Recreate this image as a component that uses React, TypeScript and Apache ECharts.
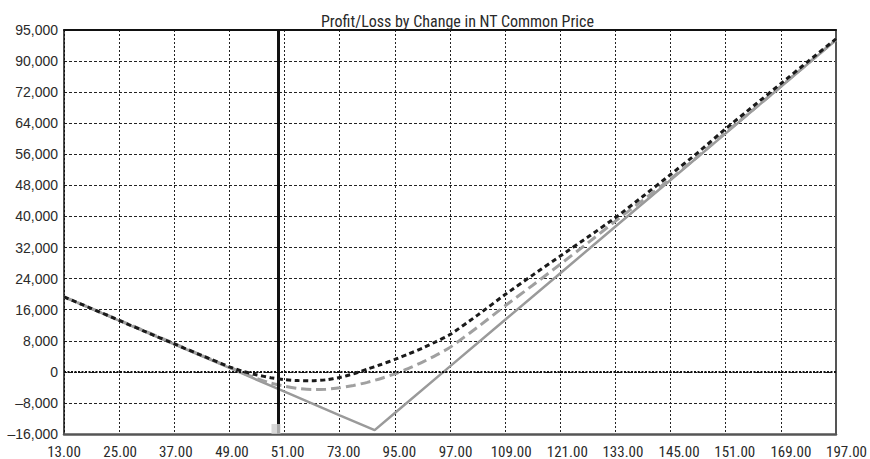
import React, { useEffect, useRef } from "react";
import * as echarts from "echarts";

// ---- Data ----
const TITLE = "Profit/Loss by Change in NT Common Price";

const PRICE_MIN = 13;
const PRICE_MAX = 181;
const PRICE_STEP = 12;
const PRICE_TICK_LABELS = [
  "13.00", "25.00", "37.00", "49.00", "51.00", "73.00", "95.00", "97.00",
  "109.00", "121.00", "133.00", "145.00", "151.00", "169.00", "197.00",
];

const PL_MIN = -16000;
const PL_MAX = 88000;
const PL_STEP = 8000;
const PL_TICK_LABELS = [
  "–16,000", "–8,000", "0", "8,000", "16,000", "24,000", "32,000", "40,000",
  "48,000", "56,000", "64,000", "72,000", "90,000", "95,000",
];

const CURRENT_PRICE = 59.67;

// P/L at expiration (solid gray)
const EXPIRY_PRICES = [13, 25, 37, 49, 61, 73, 80.6, 85, 97, 109, 121, 133, 145, 157, 169, 181];
const EXPIRY_PL = [19300, 13200, 7100, 1000, -5100, -11200, -15000, -10600, 1400, 13400, 25400, 37400, 49400, 61400, 73400, 85400];

// P/L today (black short dashes)
const TODAY_PRICES = [13, 19, 25, 31, 37, 43, 49, 52, 55, 58, 61, 64, 67, 70, 73, 76, 79, 82, 85, 88, 91, 94, 97, 103, 109, 115, 121, 127, 133, 139, 145, 151, 157, 163, 169, 175, 181];
const TODAY_PL = [19300, 16300, 13250, 10200, 7200, 4200, 1300, 100, -800, -1500, -2000, -2250, -2300, -2050, -1450, -500, 700, 1900, 3200, 4600, 6100, 7800, 9600, 14600, 19900, 24900, 29800, 34700, 39700, 45200, 50800, 56500, 62600, 68400, 74200, 80000, 85700];

// P/L at an intermediate date (gray long dashes)
const MID_PRICES = [13, 25, 37, 43, 49, 52, 55, 58, 61, 64, 67, 70, 73, 76, 79, 82, 85, 88, 91, 94, 97, 103, 109, 115, 121, 127, 133, 139, 145, 151, 157, 163, 169, 175, 181];
const MID_PL = [19300, 13300, 7300, 4200, 1200, -300, -1700, -2900, -3700, -4300, -4550, -4500, -4100, -3500, -2700, -1700, -500, 900, 2500, 4300, 6300, 11500, 17000, 22300, 27700, 33200, 38800, 44200, 49700, 55500, 61600, 67500, 73500, 79500, 85500];

const zip = (xs: number[], ys: number[]) => xs.map((x, i) => [x, ys[i]]);

const NARROW = '"Liberation Sans Narrow", "Arial Narrow", "Roboto Condensed", sans-serif';
const SANS = '"Liberation Sans", Arial, Helvetica, sans-serif';

export default function App() {
  const ref = useRef<HTMLDivElement>(null);

  useEffect(() => {
    if (!ref.current) return;
    const chart = echarts.init(ref.current, undefined, { renderer: "svg" });

    const rich: Record<string, any> = {};
    PRICE_TICK_LABELS.forEach((_, i) => {
      rich["s" + i] = {
        fontFamily: NARROW,
        fontSize: 15,
        color: "#2a2a2a",
        padding: [0, 0, 0, Math.round(i * 1.5)],
      };
    });

    const option: any = {
      animation: false,
      backgroundColor: "#ffffff",
      title: {
        text: TITLE,
        left: 316,
        top: 8,
        textStyle: { fontFamily: NARROW, fontSize: 16, fontWeight: "normal", color: "#2a2a2a" },
      },
      grid: { left: 64, right: 31, top: 30, bottom: 23, containLabel: false },
      xAxis: [
        {
          type: "value",
          min: PRICE_MIN,
          max: PRICE_MAX,
          interval: PRICE_STEP,
          axisLine: { show: true, onZero: false, lineStyle: { color: "#555", width: 2.5 } },
          axisTick: { show: false },
          axisLabel: {
            margin: 10,
            showMinLabel: true,
            showMaxLabel: true,
            formatter: (v: number) => {
              const i = Math.round((v - PRICE_MIN) / PRICE_STEP);
              return "{s" + i + "|" + (PRICE_TICK_LABELS[i] ?? "") + "}";
            },
            rich,
          },
          splitLine: { show: true, lineStyle: { color: "#222", width: 1, type: [2, 2] } },
        },
        {
          type: "value",
          position: "top",
          min: PRICE_MIN,
          max: PRICE_MAX,
          interval: PRICE_STEP,
          axisLine: { show: true, onZero: false, lineStyle: { color: "#111", width: 2 } },
          axisTick: { show: false },
          axisLabel: { show: false },
          splitLine: { show: false },
        },
      ],
      yAxis: [
        {
          type: "value",
          min: PL_MIN,
          max: PL_MAX,
          interval: PL_STEP,
          axisLine: { show: true, onZero: false, lineStyle: { color: "#111", width: 1.5 } },
          axisTick: { show: false },
          axisLabel: {
            margin: 6,
            fontFamily: SANS,
            fontSize: 14,
            color: "#2a2a2a",
            padding: [0, 0, 7, 0],
            showMinLabel: true,
            showMaxLabel: true,
            formatter: (v: number) => PL_TICK_LABELS[Math.round((v - PL_MIN) / PL_STEP)] ?? "",
          },
          splitLine: { show: true, lineStyle: { color: "#222", width: 1, type: [3, 2] } },
        },
        {
          type: "value",
          position: "right",
          min: PL_MIN,
          max: PL_MAX,
          interval: PL_STEP,
          axisLine: { show: true, onZero: false, lineStyle: { color: "#555", width: 2 } },
          axisTick: { show: false },
          axisLabel: { show: false },
          splitLine: { show: false },
        },
      ],
      series: [
        {
          name: "Expiration",
          type: "line",
          data: zip(EXPIRY_PRICES, EXPIRY_PL),
          showSymbol: false,
          symbol: "none",
          lineStyle: { color: "#9a9a9a", width: 2.5 },
          z: 3,
          markLine: {
            silent: true,
            symbol: "none",
            label: { show: false },
            data: [
              { yAxis: 0, lineStyle: { color: "#111", width: 2, type: [2, 1.5] } },
              { xAxis: CURRENT_PRICE, lineStyle: { color: "#111", width: 3, type: "solid" } },
            ],
          },
        },
        {
          name: "Intermediate",
          type: "line",
          data: zip(MID_PRICES, MID_PL),
          smooth: 0.2,
          showSymbol: false,
          symbol: "none",
          lineStyle: { color: "#a0a0a0", width: 3, type: [10, 5] },
          z: 4,
        },
        {
          name: "Today",
          type: "line",
          data: zip(TODAY_PRICES, TODAY_PL),
          smooth: 0.2,
          showSymbol: false,
          symbol: "none",
          lineStyle: { color: "#1a1a1a", width: 3, type: [5, 3.5] },
          z: 5,
        },
        {
          name: "Marker",
          type: "scatter",
          data: [[CURRENT_PRICE, PL_MIN]],
          symbol: "rect",
          symbolSize: [9, 10],
          symbolOffset: [-2.5, -5],
          itemStyle: { color: "#cfcfcf" },
          z: 6,
          silent: true,
        },
      ],
    };

    chart.setOption(option);
    return () => chart.dispose();
  }, []);

  return (
    <div
      ref={ref}
      style={{ position: "fixed", left: 0, top: 0, width: 870, height: 459, background: "#fff" }}
    />
  );
}
